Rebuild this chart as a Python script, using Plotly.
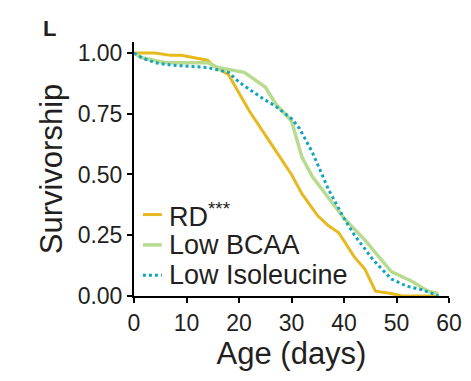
import plotly.graph_objects as go

# ---- data ----
rd_days = [0, 4, 7, 9, 14, 15, 18, 22, 26, 30, 32, 35, 37, 39, 42, 44, 46, 49, 51, 58]
rd_surv = [1.0, 1.0, 0.99, 0.99, 0.97, 0.95, 0.91, 0.76, 0.63, 0.50, 0.42, 0.33, 0.29, 0.26, 0.16, 0.11, 0.02, 0.01, 0.0, 0.0]

bcaa_days = [0, 1.5, 6, 14, 16, 21, 25, 27, 30, 32, 34, 38, 40, 44, 49, 53, 56, 58]
bcaa_surv = [1.0, 0.98, 0.96, 0.96, 0.94, 0.92, 0.86, 0.79, 0.72, 0.57, 0.49, 0.38, 0.32, 0.23, 0.10, 0.06, 0.02, 0.01]

iso_days = [0, 1.5, 4, 7, 14, 18, 20, 24, 27, 30, 31.5, 34, 37, 40, 42, 45.5, 49, 52, 55, 58]
iso_surv = [1.0, 0.98, 0.96, 0.95, 0.94, 0.92, 0.88, 0.82, 0.78, 0.73, 0.69, 0.59, 0.44, 0.32, 0.25, 0.15, 0.07, 0.04, 0.025, 0.0]

series_names = ["RD<sup>***</sup>", "Low BCAA", "Low Isoleucine"]
series_colors = ["#E6B91E", "#B8DB90", "#12A5BF"]
series_dash = ["solid", "solid", "dot"]

x_ticks = [0, 10, 20, 30, 40, 50, 60]
y_ticks = [0.0, 0.25, 0.50, 0.75, 1.00]

FONT = "Liberation Sans, Arial, sans-serif"
TXT = "#231F20"

# page body has an 8px default margin -> compensate
OFF = 8
W, H = 471 - OFF, 381 - OFF
ML, MT = 134 - OFF, 42 - OFF
PW, PH = 315, 254
MR, MB = W - ML - PW, H - MT - PH

fig = go.Figure()
for d, s, name, col, dash, w in [
    (rd_days, rd_surv, series_names[0], series_colors[0], series_dash[0], 3),
    (bcaa_days, bcaa_surv, series_names[1], series_colors[1], series_dash[1], 3.5),
    (iso_days, iso_surv, series_names[2], series_colors[2], series_dash[2], 3),
]:
    fig.add_trace(go.Scatter(x=d, y=s, mode="lines", name=name,
                             line=dict(color=col, width=w, dash=dash),
                             showlegend=False))

# manual legend (inside plot, lower-left)
leg_y = [0.335, 0.21, 0.085]
for i, (name, col, dash) in enumerate(zip(series_names, series_colors, series_dash)):
    fig.add_shape(type="line", xref="x", yref="y",
                  x0=1.7, x1=5.3, y0=leg_y[i], y1=leg_y[i],
                  line=dict(color=col, width=3.5 if i == 1 else 3, dash=dash))
    fig.add_annotation(x=6.3, y=leg_y[i], xref="x", yref="y", text=name,
                       showarrow=False, xanchor="left", yanchor="middle",
                       font=dict(family=FONT, size=27, color=TXT))

fig.add_annotation(x=(49 - 134) / PW, y=(296 - 28) / PH, xref="paper", yref="paper",
                   text="<b>L</b>", showarrow=False, xanchor="center", yanchor="middle",
                   font=dict(family="Liberation Sans, Arial Black, sans-serif", size=22, color=TXT))

fig.update_layout(
    width=W, height=H,
    margin=dict(l=ML, r=MR, t=MT, b=MB, autoexpand=False),
    paper_bgcolor="white", plot_bgcolor="white",
    font=dict(family=FONT, color=TXT),
)

fig.update_xaxes(range=[0, 60], tickvals=x_ticks, ticktext=[str(v) for v in x_ticks],
                 automargin=False,
                 showline=True, linecolor="black", linewidth=2,
                 ticks="outside", ticklen=5, tickwidth=2, tickcolor="black",
                 showgrid=False, zeroline=False,
                 tickfont=dict(family=FONT, size=23, color=TXT),
                 title=dict(text="Age (days)", font=dict(family=FONT, size=31, color=TXT), standoff=2))
fig.update_yaxes(range=[0, 1.045], tickvals=y_ticks, ticktext=[f"{v:.2f}" for v in y_ticks],
                 automargin=False,
                 showline=True, linecolor="black", linewidth=2,
                 ticks="outside", ticklen=5, tickwidth=2, tickcolor="black",
                 showgrid=False, zeroline=False,
                 tickfont=dict(family=FONT, size=23, color=TXT),
                 title=dict(text="Survivorship", font=dict(family=FONT, size=31, color=TXT), standoff=6))

fig.write_html("out.html")
